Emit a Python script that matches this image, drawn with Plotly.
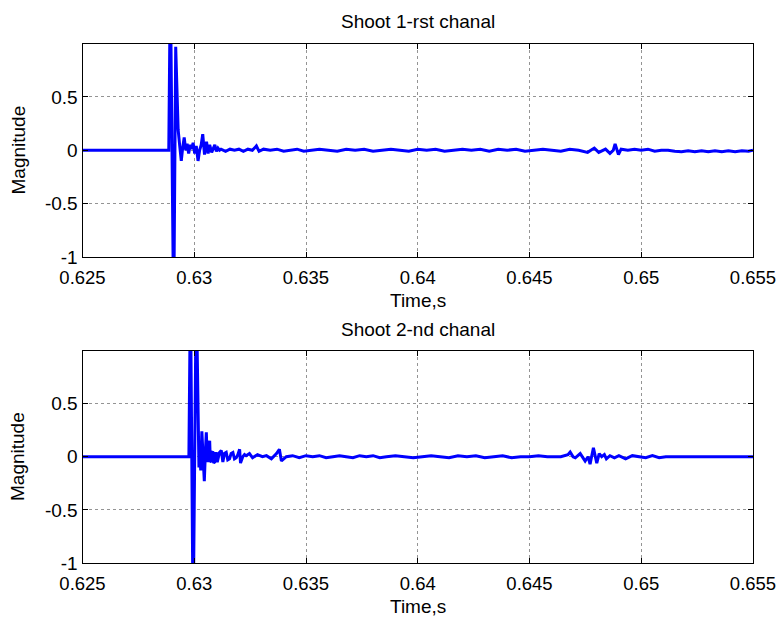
import plotly.graph_objects as go

# ---------------- data ----------------
# Channel 1
t1 = [0.625, 0.62886, 0.62893, 0.62902, 0.62908, 0.62917, 0.62924, 0.62928,
      0.62935, 0.62942, 0.62948, 0.62955, 0.62962, 0.62968, 0.62975, 0.62982,
      0.62988, 0.62995, 0.63002, 0.63009, 0.63017, 0.63024, 0.63031, 0.63038,
      0.63046, 0.63055, 0.63062, 0.63069, 0.63078, 0.63087, 0.63092, 0.63099,
      0.63106, 0.63113,
      0.6312, 0.6314, 0.6316, 0.6318, 0.6320, 0.6322, 0.6324, 0.6326, 0.63278,
      0.6329, 0.6331, 0.6334, 0.6337, 0.6340, 0.6343, 0.6346, 0.6349, 0.6352,
      0.6356, 0.6360, 0.6364, 0.6368, 0.6372, 0.6376, 0.6380, 0.6384, 0.6388,
      0.6392, 0.6396, 0.6400, 0.6404, 0.6408, 0.6412, 0.6416, 0.6420, 0.6424,
      0.6428, 0.6432, 0.6436, 0.6440, 0.6444, 0.6448, 0.6452, 0.6456, 0.6460,
      0.6464, 0.6468, 0.6472, 0.6476, 0.6479, 0.6481, 0.6484, 0.6486, 0.64875,
      0.64883, 0.64898, 0.6491, 0.6494, 0.6497, 0.6500, 0.6503, 0.6506, 0.6509,
      0.6512, 0.6515, 0.6518, 0.6521, 0.6524, 0.6527, 0.6530, 0.6533, 0.6536,
      0.6539, 0.6542, 0.6545, 0.6548, 0.6550]
v1 = [0.0, 0.0, 1.6, -0.4, -1.6, 0.97, 0.40, 0.19,
      0.04, -0.10, 0.02, 0.12, 0.00, 0.06, -0.03, 0.05,
      0.01, 0.07, -0.03, 0.04, -0.10, 0.00, 0.05, 0.15,
      -0.04, 0.08, -0.03, 0.05, -0.02, 0.04, 0.05, -0.01,
      0.02, 0.00,
      0.01, -0.01, 0.01, 0.00, 0.01, -0.01, 0.01, 0.00, 0.04,
      -0.01, 0.01, 0.00, 0.01, -0.01, 0.00, 0.01, -0.01, 0.00,
      0.01, 0.00, -0.01, 0.01, 0.00, 0.01, -0.01, 0.00, 0.01,
      0.00, -0.01, 0.01, 0.00, 0.01, -0.01, 0.00, 0.01, 0.00,
      0.01, -0.01, 0.01, 0.00, 0.01, -0.01, 0.00, 0.01, 0.00,
      -0.01, 0.01, 0.00, -0.02, 0.02, -0.02, 0.01, -0.03, 0.00,
      0.06, -0.04, 0.01, 0.00, 0.01, 0.00, 0.01, -0.01, 0.00,
      0.00, -0.01, -0.015, -0.005, -0.015, -0.005, -0.015, -0.005, -0.015,
      -0.005, -0.015, -0.005, -0.01, 0.0]

# Channel 2
t2 = [0.625, 0.62976, 0.62983, 0.62991, 0.62995, 0.63009, 0.63017, 0.63021,
      0.63024, 0.63029, 0.63034, 0.63040, 0.63045, 0.63050, 0.63054, 0.63058,
      0.63061, 0.63065, 0.63069, 0.63072, 0.63076, 0.63080, 0.63083, 0.63087,
      0.63091, 0.63095, 0.63099, 0.63103, 0.63106, 0.63113, 0.63121, 0.63125,
      0.63128, 0.63135, 0.63143, 0.63150, 0.63158, 0.63165, 0.63173, 0.63180,
      0.63188, 0.63195, 0.63203, 0.63207, 0.63217, 0.63225, 0.63232, 0.63247,
      0.63261, 0.63283, 0.63305, 0.63323, 0.63345, 0.63368, 0.63381, 0.63390,
      0.63412,
      0.6344, 0.6347, 0.6350, 0.6353, 0.6356, 0.6359, 0.6362, 0.6365, 0.6368,
      0.6371, 0.6374, 0.6377, 0.6380, 0.6383, 0.6386, 0.6390, 0.6394, 0.6398,
      0.6402, 0.6406, 0.6410, 0.6414, 0.6418, 0.6422, 0.6426, 0.6430, 0.6434,
      0.6438, 0.6442, 0.6446, 0.6450, 0.6454, 0.6458, 0.64599, 0.6464, 0.64672,
      0.64682, 0.64695, 0.64705, 0.64727, 0.64749, 0.64762, 0.64771, 0.64786,
      0.64801, 0.64812, 0.64823, 0.64835, 0.64844, 0.6486, 0.6488, 0.6490,
      0.6493, 0.6496, 0.6499, 0.6502, 0.6505, 0.6508, 0.6511, 0.65135, 0.655]
v2 = [0.0, 0.0, 1.6, -0.5, -1.6, 1.6, 0.05, -0.10,
      0.10, -0.13, 0.24, -0.05, -0.23, 0.05, 0.23, -0.02,
      -0.05, 0.12, 0.15, -0.04, -0.05, 0.04, 0.05, -0.06,
      -0.05, 0.03, 0.03, -0.05, -0.03, 0.04, 0.06, -0.04,
      -0.05, 0.03, 0.04, -0.03, -0.02, 0.03, 0.04, -0.02,
      -0.01, 0.02, 0.07, -0.06, 0.00, 0.02, 0.01, 0.03,
      -0.01, 0.02, 0.00, 0.01, -0.02, 0.03, 0.07, -0.04,
      0.00,
      0.01, -0.01, 0.01, 0.00, 0.01, -0.01, 0.00, 0.01, 0.00,
      -0.01, 0.01, 0.00, 0.01, -0.01, 0.00, 0.01, 0.00, -0.01,
      0.00, 0.01, 0.00, -0.01, 0.01, 0.00, 0.01, -0.01, 0.00,
      0.01, -0.01, 0.00, 0.00, 0.01, 0.00, 0.00, 0.00, 0.02,
      0.045, 0.00, -0.01, 0.03, -0.04, 0.00, -0.07, 0.085,
      -0.06, 0.03, 0.00, 0.02, -0.02, 0.01, -0.01, 0.01,
      -0.02, 0.01, 0.00, -0.01, 0.01, -0.01, 0.00, 0.00, 0.00]

titles = ["Shoot 1-rst chanal", "Shoot 2-nd chanal"]
x_label = "Time,s"
y_label = "Magnitude"
x_ticks = [0.625, 0.63, 0.635, 0.64, 0.645, 0.65, 0.655]
x_tick_text = ["0.625", "0.63", "0.635", "0.64", "0.645", "0.65", "0.655"]
y_ticks = [-1, -0.5, 0, 0.5]
y_tick_text = ["-1", "-0.5", "0", "0.5"]

# ---------------- figure ----------------
W, H = 777, 617
FONT = "Liberation Sans, Arial, sans-serif"
FS = 19
line_color = "#0000FF"

fig = go.Figure()
fig.add_trace(go.Scatter(x=t1, y=v1, mode="lines", xaxis="x", yaxis="y",
                         line=dict(color=line_color, width=3), showlegend=False))
fig.add_trace(go.Scatter(x=t2, y=v2, mode="lines", xaxis="x2", yaxis="y2",
                         line=dict(color=line_color, width=3), showlegend=False))

left_px, right_px = 82.5, 753
dom_x = [left_px / W, right_px / W]
top1, bot1 = 44, 257
top2, bot2 = 351, 563
dom_y1 = [1 - bot1 / H, 1 - top1 / H]
dom_y2 = [1 - bot2 / H, 1 - top2 / H]

axis_common = dict(
    showline=True, linecolor="black", linewidth=1, mirror="ticks",
    ticks="inside", ticklen=5, tickcolor="black", tickwidth=1,
    showgrid=True, gridcolor="rgba(60,60,60,0.55)", griddash="dot", gridwidth=1,
    zeroline=False, tickfont=dict(family=FONT, size=FS, color="black"),
    automargin=False, fixedrange=True, ticklabeloverflow="allow",
)

xa = dict(axis_common, range=[0.625, 0.6550001], tickvals=x_ticks, ticktext=x_tick_text,
          domain=dom_x, ticklabelstandoff=4,
          tickfont=dict(family=FONT, size=18.5, color="black"))
ya = dict(axis_common, range=[-1, 0.995], tickvals=y_ticks, ticktext=y_tick_text)

fig.update_layout(
    width=W, height=H,
    margin=dict(l=0, r=0, t=0, b=0),
    paper_bgcolor="white", plot_bgcolor="white",
    font=dict(family=FONT, size=FS, color="black"),
    xaxis=dict(xa, anchor="y"),
    yaxis=dict(ya, domain=dom_y1, anchor="x"),
    xaxis2=dict(xa, anchor="y2"),
    yaxis2=dict(ya, domain=dom_y2, anchor="x2"),
)

cx = (left_px + right_px) / 2 / W
ann = []
for i, (top, bot) in enumerate([(top1, bot1), (top2, bot2)]):
    ann.append(dict(text=titles[i], x=cx, y=1 - (top - 22) / H, xref="paper", yref="paper",
                    showarrow=False, font=dict(family=FONT, size=FS, color="black"),
                    xanchor="center", yanchor="middle"))
    ann.append(dict(text=x_label, x=cx, y=1 - (bot + 43) / H, xref="paper", yref="paper",
                    showarrow=False, font=dict(family=FONT, size=FS, color="black"),
                    xanchor="center", yanchor="middle"))
    ann.append(dict(text=y_label, x=18 / W, y=1 - ((top + bot) / 2) / H, xref="paper",
                    yref="paper", showarrow=False, textangle=-90,
                    font=dict(family=FONT, size=FS, color="black"),
                    xanchor="center", yanchor="middle"))
fig.update_layout(annotations=ann)

fig.write_html("out.html")
